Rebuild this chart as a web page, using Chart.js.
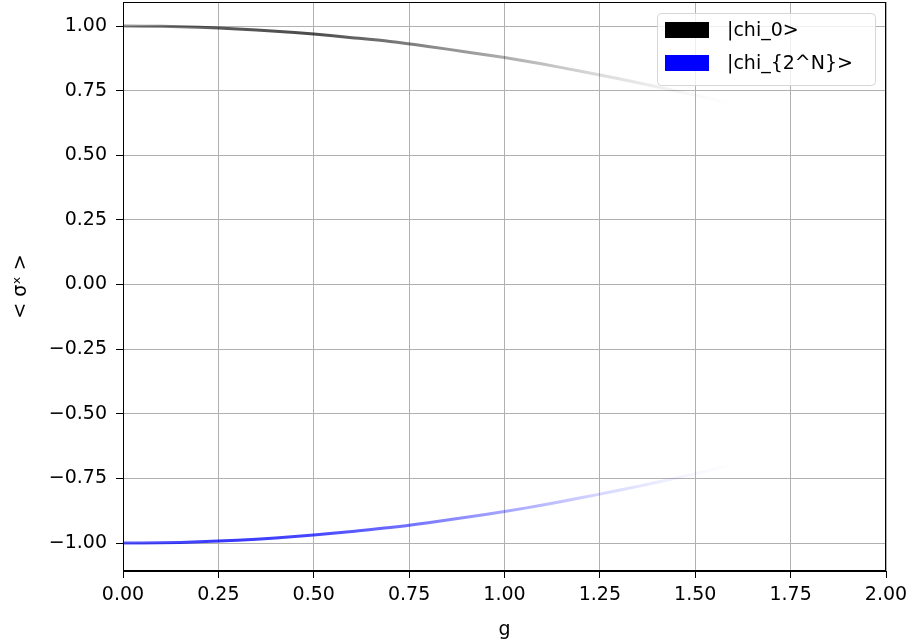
<!DOCTYPE html>
<html>
<head>
<meta charset="utf-8">
<script src="https://cdn.jsdelivr.net/npm/chart.js@4.4.0/dist/chart.umd.min.js"></script>
<style>
  html, body { margin: 0; padding: 0; background: #fff; }
  #wrap { width: 912px; height: 643px; }
</style>
</head>
<body>
<div id="wrap"><canvas id="sigmaChart" width="912" height="643"></canvas></div>
<script>
// values
var gValues = [0.0, 0.1, 0.2, 0.3, 0.4, 0.5, 0.6, 0.7, 0.8, 0.9, 1.0, 1.1, 1.2, 1.3, 1.4, 1.5, 1.6];
var chi0 = [1.000, 0.999, 0.995, 0.989, 0.980, 0.969, 0.955, 0.940, 0.921, 0.900, 0.878, 0.853, 0.825, 0.796, 0.765, 0.732, 0.697];
var chi2N = [-1.000, -0.999, -0.995, -0.989, -0.980, -0.969, -0.955, -0.940, -0.921, -0.900, -0.878, -0.853, -0.825, -0.796, -0.765, -0.732, -0.697];
var seriesLabels = ['|chi_0>', '|chi_{2^N}>'];
var xTicks = [0, 0.25, 0.5, 0.75, 1.0, 1.25, 1.5, 1.75, 2.0];
var yTicks = [-1.0, -0.75, -0.5, -0.25, 0, 0.25, 0.5, 0.75, 1.0];

var FONT = 'DejaVu Sans';
var FS = 19;

function points(ys) {
    return gValues.map(function(g, i) { return { x: g, y: ys[i] }; });
}

// colour fading out along g
function fade(rgb, stops) {
    return function(context) {
        var chart = context.chart;
        if (!chart.chartArea || !chart.scales.x) return 'rgba(' + rgb + ',0.5)';
        var xs = chart.scales.x;
        var x0 = xs.getPixelForValue(gValues[0]);
        var x1 = xs.getPixelForValue(gValues[gValues.length - 1]);
        var grad = chart.ctx.createLinearGradient(x0, 0, x1, 0);
        stops.forEach(function(s) {
            grad.addColorStop(s[0], 'rgba(' + rgb + ',' + s[1] + ')');
        });
        return grad;
    };
}

function fmt(v) {
    var s = Math.abs(v).toFixed(2);
    return (v < -1e-9 ? '\u2212' : '') + s;
}

// top/right spines
var framePlugin = {
    id: 'frame',
    afterDraw: function(chart) {
        var a = chart.chartArea, c = chart.ctx;
        c.save();
        c.strokeStyle = '#000';
        c.lineWidth = 1;
        c.strokeRect(a.left + 0.5, a.top + 0.5, a.right - a.left - 1, a.bottom - a.top - 1);
        c.restore();
    }
};

// matplotlib-like legend box in the upper right corner
var legendPlugin = {
    id: 'mplLegend',
    afterDraw: function(chart) {
        var a = chart.chartArea, c = chart.ctx;
        var w = 218, h = 72;
        var x = a.right - 11 - w, y = a.top + 11;
        c.save();
        c.fillStyle = 'rgba(255,255,255,0.8)';
        c.strokeStyle = '#d6d6d6';
        c.lineWidth = 1;
        c.beginPath();
        c.roundRect(x + 0.5, y + 0.5, w, h, 4);
        c.fill();
        c.stroke();
        c.font = FS + 'px ' + FONT;
        c.textBaseline = 'middle';
        var colors = ['#000000', '#0000ff'];
        chart.data.datasets.forEach(function(ds, i) {
            var ry = y + 9 + i * 33;
            c.fillStyle = colors[i];
            c.fillRect(x + 8, ry, 44, 16);
            c.fillStyle = '#000';
            c.fillText(ds.label, x + 70, ry + 9);
        });
        c.restore();
    }
};

var ctx = document.getElementById('sigmaChart').getContext('2d');
var sigmaChart = new Chart(ctx, {
    type: 'line',
    data: {
        datasets: [{
            label: seriesLabels[0],
            data: points(chi0),
            borderColor: fade('0,0,0', [[0, 0.4], [0.16, 0.65], [0.31, 0.7], [0.47, 0.5], [0.625, 0.32], [0.78, 0.14], [0.92, 0.03], [1, 0]]),
            borderWidth: 3,
            pointRadius: 0,
            tension: 0.3,
            fill: false
        }, {
            label: seriesLabels[1],
            data: points(chi2N),
            borderColor: fade('0,0,255', [[0, 0.65], [0.16, 0.78], [0.31, 0.72], [0.47, 0.55], [0.625, 0.35], [0.78, 0.16], [0.92, 0.04], [1, 0]]),
            borderWidth: 3,
            pointRadius: 0,
            tension: 0.3,
            fill: false
        }]
    },
    options: {
        responsive: false,
        animation: false,
        layout: { padding: { top: 2, right: 26, left: 0, bottom: 0 } },
        plugins: {
            legend: { display: false },
            tooltip: { enabled: false }
        },
        scales: {
            x: {
                type: 'linear',
                min: 0,
                max: 2,
                afterBuildTicks: function(scale) {
                    scale.ticks = xTicks.map(function(v) { return { value: v }; });
                },
                afterFit: function(scale) {
                    scale.height = 72;
                    scale.paddingLeft = 0;
                    scale.paddingRight = 0;
                },
                ticks: {
                    callback: function(v) { return fmt(v); },
                    color: '#000',
                    font: { family: FONT, size: FS },
                    padding: 6,
                    maxRotation: 0
                },
                grid: { color: '#b0b0b0', lineWidth: 1, tickColor: '#000', tickLength: 7 },
                border: { color: '#000', width: 1 },
                title: {
                    display: true,
                    text: 'g',
                    color: '#000',
                    font: { family: FONT, size: FS },
                    padding: { top: 0, bottom: 2 }
                }
            },
            y: {
                type: 'linear',
                min: -1.108,
                max: 1.093,
                afterBuildTicks: function(scale) {
                    scale.ticks = yTicks.map(function(v) { return { value: v }; });
                },
                afterFit: function(scale) {
                    scale.width = 123;
                    scale.paddingTop = 0;
                    scale.paddingBottom = 0;
                },
                ticks: {
                    callback: function(v) { return fmt(v); },
                    color: '#000',
                    font: { family: FONT, size: FS },
                    padding: 9
                },
                grid: { color: '#b0b0b0', lineWidth: 1, tickColor: '#000', tickLength: 7 },
                border: { color: '#000', width: 1 },
                title: {
                    display: true,
                    text: '< \u03c3\u02e3 >',
                    color: '#000',
                    font: { family: FONT, size: FS },
                    padding: { top: 10, bottom: 0 }
                }
            }
        }
    },
    plugins: [framePlugin, legendPlugin]
});
</script>
</body>
</html>
